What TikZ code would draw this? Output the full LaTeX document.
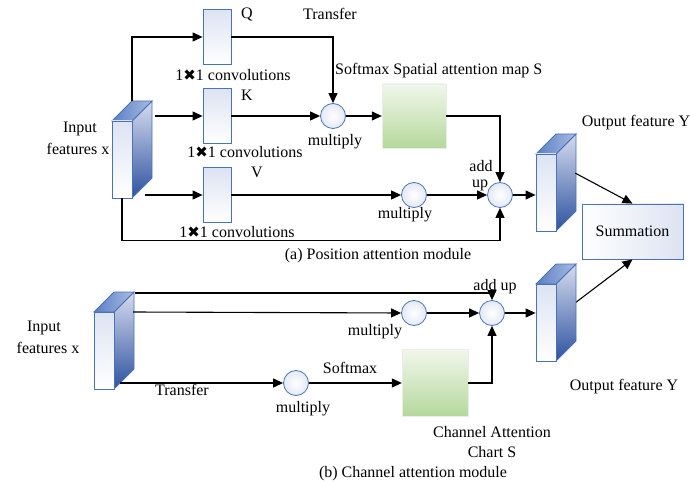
\documentclass[tikz,border=0pt]{standalone}
\usepackage{fontspec}
\setmainfont{Liberation Serif}
\newfontfamily\symfont{DejaVu Sans}
\usetikzlibrary{arrows.meta,calc}

\definecolor{edgeblue}{HTML}{4A72B8}
\definecolor{deepblue}{HTML}{2E52A0}
\definecolor{midblue}{HTML}{6F8DC8}
\definecolor{paleblue}{HTML}{DCE3F2}
\definecolor{lavender}{HTML}{D6DCEE}
\definecolor{topblue}{HTML}{5A7EC4}
\definecolor{toplight}{HTML}{A9BCE2}
\definecolor{greenlight}{HTML}{F1F7EC}
\definecolor{greenmid}{HTML}{B4D89B}

\newcommand{\timesmark}{{\symfont\fontsize{15}{17}\selectfont ✖}}

\tikzset{
  lbl/.style={font=\fontsize{16}{19}\selectfont, inner sep=0pt},
  conv/.style={draw=edgeblue, line width=0.8pt, top color=paleblue, bottom color=white,
    minimum width=28pt, minimum height=55pt, inner sep=0pt},
  op/.style={circle, draw=edgeblue, line width=0.8pt, inner color=white, outer color=paleblue!80,
    minimum size=25pt, inner sep=0pt},
  attn/.style={draw=greenlight!70!gray!40, line width=0.3pt, top color=greenlight, bottom color=greenmid,
    inner sep=0pt},
  sumbox/.style={draw=edgeblue, line width=0.8pt, left color=white, right color=paleblue,
    minimum width=101pt, minimum height=55pt, font=\fontsize{16}{19}\selectfont},
  facefront/.style={draw=edgeblue, line width=0.8pt, top color=paleblue, bottom color=white,
    minimum width=20pt, minimum height=77pt, inner sep=0pt},
  flow/.style={line width=1.1pt, -{Triangle[length=10pt,width=9pt]}},
}

% feature block: name, left x, top y of the front face
\newcommand{\featblock}[3]{%
  \shade[top color=lavender, middle color=midblue, bottom color=deepblue, draw=edgeblue, line width=0.8pt]
    ({#2+20},{#3}) -- ({#2+40},{#3-20}) -- ({#2+40},{#3+57}) -- ({#2+20},{#3+77}) -- cycle;
  \shade[left color=topblue, right color=toplight, draw=edgeblue, line width=0.8pt]
    ({#2},{#3}) -- ({#2+20},{#3-20}) -- ({#2+40},{#3-20}) -- ({#2+20},{#3}) -- cycle;
  \node[facefront] (#1) at ({#2+10},{#3+38.5}) {};
}

\begin{document}
\begin{tikzpicture}[x=1pt, y=-1pt]
\useasboundingbox (0,0) rectangle (690,486);

% ---------------- position attention module ----------------
\featblock{in1}{112}{121}
\featblock{out1}{536}{154}

\node[conv] (Q) at (217,37) {};
\node[conv] (K) at (217,116) {};
\node[conv] (V) at (217,195) {};

\node[op] (mul1) at (333,116) {};
\node[op] (mul2) at (414,195) {};
\node[op] (add1) at (500,195) {};

\node[attn, minimum width=64pt, minimum height=64pt] (S1) at (414,116) {};

\coordinate (qsrc) at (132,101);
\coordinate (ksrc) at (155,116);
\coordinate (vsrc) at (145,195);

\draw[flow] (qsrc) |- (Q.west);
\draw[flow] (ksrc) -- (K.west);
\draw[flow] (vsrc) -- (V.west);
\draw[flow] (Q.east) -| (mul1.north);
\draw[flow] (K.east) -- (mul1.west);
\draw[flow] (mul1.east) -- (S1.west);
\draw[flow] (S1.east) -| (add1.north);
\draw[flow] (V.east) -- (mul2.west);
\draw[flow] (mul2.east) -- (add1.west);
\draw[flow] (in1.south) -- ++(0,42) -| (add1.south);
\draw[flow] (add1.east) -- (add1.east -| out1.west);

\node[lbl] (lq) at (247,15) {Q};
\node[lbl] (lk) at (247,95) {K};
\node[lbl] (lv) at (257,172) {V};
\node[lbl] (cq) at (233,75) {1\timesmark1 convolutions};
\node[lbl] (ck) at (245,152) {1\timesmark1 convolutions};
\node[lbl] (cv) at (237,232) {1\timesmark1 convolutions};
\node[lbl] (tr1) at (330,14) {Transfer};
\node[lbl, anchor=west] (sm1) at (335,71) {Softmax Spatial attention map S};
\node[lbl] (m1) at (335,142) {multiply};
\node[lbl] (m2) at (405,215) {multiply};
\node[lbl] (ad1) at (481,166) {add};
\node[lbl] (up1) at (480,185) {up};
\node[lbl] (inA) at (80,129) {Input};
\node[lbl] (inB) at (78,149) {features x};
\node[lbl] (oA) at (636,123) {Output feature Y};
\node[lbl] (capa) at (378,256) {(a) Position attention module};

% ---------------- summation ----------------
\node[sumbox] (sum) at (632.5,231.5) {Summation};
\coordinate (o1src) at (575,173);
\coordinate (o2src) at (575,303);
\draw[flow] (o1src) -- (sum.north);
\draw[flow] (o2src) -- (sum.south);

% ---------------- channel attention module ----------------
\featblock{in2}{94}{312}
\featblock{out2}{536}{284}

\node[op] (mul3) at (414,313) {};
\node[op] (add2) at (492,313) {};
\node[op] (mul4) at (296,383) {};
\node[attn, minimum width=66pt, minimum height=67pt] (S2) at (435,383) {};

\coordinate (tsrc) at (135,293);
\coordinate (msrc) at (133,312);
\coordinate (fsrc) at (120,383);

\draw[flow] (tsrc) -| (add2.north);
\draw[flow] (msrc) -- (mul3.west);
\draw[flow] (mul3.east) -- (add2.west);
\draw[flow] (add2.east) -- (add2.east -| out2.west);
\draw[flow] (fsrc) -- (mul4.west);
\draw[flow] (mul4.east) -- (S2.west);
\draw[flow] (S2.east) -| (add2.south);

\node[lbl] (ad2) at (495,287) {add up};
\node[lbl] (m3) at (375,332) {multiply};
\node[lbl] (m4) at (303,409) {multiply};
\node[lbl] (sm2) at (350,368) {Softmax};
\node[lbl] (tr2) at (182,390) {Transfer};
\node[lbl] (inC) at (44,328) {Input};
\node[lbl] (inD) at (48,348) {features x};
\node[lbl] (oB) at (624,387) {Output feature Y};
\node[lbl] (chA) at (492,432) {Channel Attention};
\node[lbl] (chB) at (492,452) {Chart S};
\node[lbl] (capb) at (413,474) {(b) Channel attention module};
\end{tikzpicture}
\end{document}
